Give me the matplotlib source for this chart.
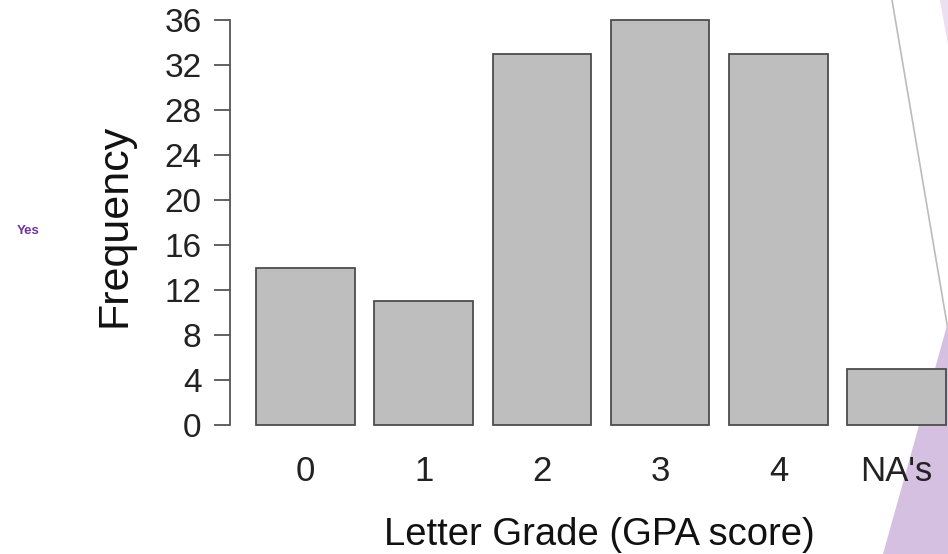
import matplotlib
matplotlib.use("Agg")
import matplotlib.pyplot as plt
from matplotlib.patches import Polygon
from matplotlib.lines import Line2D

categories = ["0", "1", "2", "3", "4", "NA's"]
counts = [14, 11, 33, 36, 33, 5]
yticks = [0, 4, 8, 12, 16, 20, 24, 28, 32, 36]

plt.rcParams['font.family'] = ['Liberation Sans', 'DejaVu Sans']

W, H = 948, 554
fig = plt.figure(figsize=(W / 100, H / 100), dpi=100)

def fx(px):
    return px / W

def fy(py):
    return 1 - py / H

# slide decorations (behind the chart)
fig.patches.append(Polygon([(fx(883), fy(554)), (fx(948), fy(322)), (fx(948), fy(554))],
                           closed=True, transform=fig.transFigure, facecolor='#D5C0E1',
                           edgecolor='none', zorder=-5))
fig.patches.append(Polygon([(fx(940), fy(0)), (fx(948), fy(0)), (fx(948), fy(45))],
                           closed=True, transform=fig.transFigure, facecolor='#EAE0F1',
                           edgecolor='none', zorder=-5))
fig.lines.append(Line2D([fx(892), fx(948)], [fy(0), fy(330)], transform=fig.transFigure,
                        color='#BBBBBB', lw=1.2, zorder=-5))

ax_left, ax_right, ax_top, ax_bottom = 230, 948, 4, 441
ax = fig.add_axes([fx(ax_left), fy(ax_bottom), (ax_right - ax_left) / W, (ax_bottom - ax_top) / H])
ax.set_zorder(1)
ax.patch.set_alpha(0)

lefts = [0.2 + 1.2 * i for i in range(len(counts))]
centers = [l + 0.5 for l in lefts]
ax.bar(lefts, counts, width=1.0, align='edge', color='#BEBEBE', edgecolor='#4D4D4D',
       linewidth=1.3, zorder=2, clip_on=False)

ax.set_xlim(-0.064, 7.22)
ax.set_ylim(-1.42, 37.42)

for s in ['top', 'right', 'bottom']:
    ax.spines[s].set_visible(False)
ax.spines['left'].set_bounds(0, 36)
ax.spines['left'].set_color('#555555')
ax.spines['left'].set_linewidth(1.3)

ax.set_yticks(yticks)
ax.set_yticklabels([str(v) for v in yticks])
ax.tick_params(axis='y', length=11.5, width=1.3, color='#555555', labelsize=24,
               pad=9, labelcolor='#222222')
ax.set_xticks(centers)
ax.set_xticklabels(categories)
ax.tick_params(axis='x', length=0, labelsize=25, pad=10, labelcolor='#222222')

ax.set_xlabel("Letter Grade (GPA score)", fontsize=27.5, color='#111111')
ax.xaxis.set_label_coords((599 - ax_left) / (ax_right - ax_left), -(535 - ax_bottom) / (ax_bottom - ax_top))
ax.xaxis.label.set_va('center')
ax.set_ylabel("Frequency", fontsize=31, color='#111111')
ax.yaxis.set_label_coords(-(ax_left - 114) / (ax_right - ax_left), (ax_bottom - 225) / (ax_bottom - ax_top))
ax.yaxis.label.set_va('center')

fig.text(fx(28), fy(231), "Yes", color='#7030A0', fontsize=9.5, fontweight='bold',
         ha='center', va='center')

fig.savefig("out.png", dpi=100)
